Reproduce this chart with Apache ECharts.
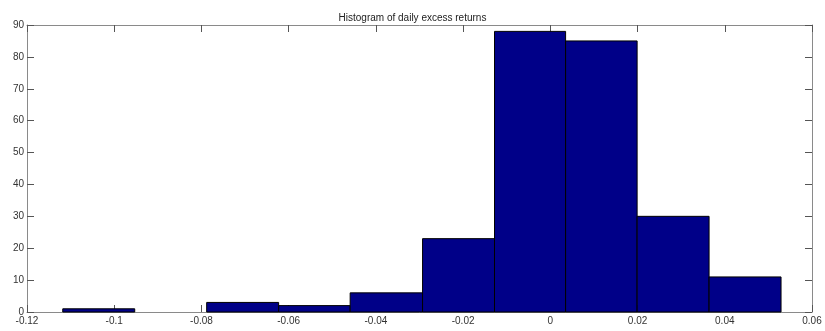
<!DOCTYPE html>
<html><head><meta charset="utf-8">
<script src="https://cdn.jsdelivr.net/npm/echarts@6/dist/echarts.min.js"></script>
<style>html,body{margin:0;padding:0;background:#fff}#c{width:825px;height:331px}</style>
</head><body><div id="c"></div>
<script>
var binEdges = [-0.1118, -0.0953, -0.0788, -0.0623, -0.0459, -0.0293, -0.0128, 0.0035, 0.0199, 0.0364, 0.0529];
var counts = [1, 0, 3, 2, 6, 23, 88, 85, 30, 11];
var xTicks = [-0.12, -0.1, -0.08, -0.06, -0.04, -0.02, 0, 0.02, 0.04, 0.06];
var yTicks = [0, 10, 20, 30, 40, 50, 60, 70, 80, 90];
var titleText = 'Histogram of daily excess returns';

var data = counts.map(function (c, i) { return [binEdges[i], binEdges[i + 1], c]; });
var chart = echarts.init(document.getElementById('c'), null, {renderer: 'canvas'});
var font = 'Liberation Sans, Arial, sans-serif';
function fmtX(v) {
  var r = Math.round(v * 100) / 100;
  if (r === 0) return '0';
  return String(r);
}
var axisLine = {show: true, onZero: false, lineStyle: {color: '#8a8a8a', width: 1}};
var tick = {show: true, inside: true, length: 7, lineStyle: {color: '#555', width: 1}};
chart.setOption({
  animation: false,
  title: {text: titleText, left: 'center', top: 8, textStyle: {fontFamily: font, fontSize: 10, fontWeight: 'normal', color: '#222'}},
  grid: {left: 27, right: 13, top: 25, bottom: 19},
  xAxis: [{
    type: 'value', min: xTicks[0], max: xTicks[xTicks.length - 1], interval: 0.02, position: 'bottom',
    axisLine: axisLine, axisTick: tick, splitLine: {show: false},
    axisLabel: {fontFamily: font, fontSize: 10, color: '#333', margin: 4, formatter: fmtX}
  }, {
    type: 'value', min: xTicks[0], max: xTicks[xTicks.length - 1], interval: 0.02, position: 'top',
    axisLine: axisLine, axisTick: tick, splitLine: {show: false}, axisLabel: {show: false}
  }],
  yAxis: [{
    type: 'value', min: yTicks[0], max: yTicks[yTicks.length - 1], interval: 10, position: 'left',
    axisLine: axisLine, axisTick: tick, splitLine: {show: false},
    axisLabel: {fontFamily: font, fontSize: 10, color: '#333', margin: 3}
  }, {
    type: 'value', min: yTicks[0], max: yTicks[yTicks.length - 1], interval: 10, position: 'right',
    axisLine: axisLine, axisTick: tick, splitLine: {show: false}, axisLabel: {show: false}
  }],
  series: [{
    type: 'custom',
    xAxisIndex: 0, yAxisIndex: 0,
    data: data,
    encode: {x: [0, 1], y: 2},
    renderItem: function (params, api) {
      if (api.value(2) <= 0) return null;
      var p0 = api.coord([api.value(0), 0]);
      var p1 = api.coord([api.value(1), api.value(2)]);
      return {
        type: 'rect',
        shape: {x: p0[0], y: p1[1], width: p1[0] - p0[0], height: p0[1] - p1[1]},
        style: {fill: '#000088', stroke: '#000', lineWidth: 1}
      };
    }
  }]
});
</script></body></html>
